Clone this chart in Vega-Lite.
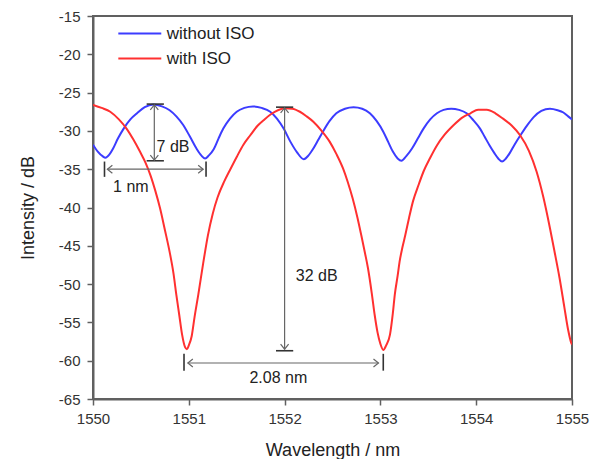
{
  "$schema": "https://vega.github.io/schema/vega-lite/v6.json",
  "autosize": "none",
  "width": 479,
  "height": 383,
  "padding": {"left": 93, "top": 16, "right": 18, "bottom": 60},
  "background": "white",
  "config": {
    "view": {"stroke": "#606060", "strokeWidth": 2},
    "font": "Liberation Sans",
    "axis": {
      "grid": false,
      "domainColor": "#606060",
      "domainWidth": 2,
      "tickColor": "#606060",
      "tickWidth": 1.5,
      "tickSize": 6,
      "labelFont": "Liberation Sans",
      "labelFontSize": 15,
      "labelColor": "#333333",
      "labelOverlap": false,
      "labelFlush": false,
      "titleFont": "Liberation Sans",
      "titleFontSize": 18,
      "titleFontWeight": "normal",
      "titleColor": "#222222"
    },
    "axisY": {"labelOverlap": false},
    "axisQuantitative": {"labelOverlap": false}
  },
  "encoding": {
    "x": {"field": "wavelength", "type": "quantitative",
          "scale": {"domain": [1550, 1555], "nice": false, "zero": false},
          "axis": {"title": "Wavelength / nm", "values": [1550,1551,1552,1553,1554,1555], "format": "d", "labelPadding": 6, "titleY": 56, "titleBaseline": "alphabetic", "labelOverlap": false, "labelFlush": false}},
    "y": {"field": "intensity", "type": "quantitative",
          "scale": {"domain": [-65, -15], "nice": false, "zero": false},
          "axis": {"title": "Intensity / dB", "values": [-65,-60,-55,-50,-45,-40,-35,-30,-25,-20,-15], "labelExpr": "toString(datum.value)", "labelPadding": 7, "titleX": -60, "titleBaseline": "alphabetic", "labelOverlap": false, "labelFlush": false, "labelBound": false}}
  },
  "layer": [
    {
      "data": {"values": [
        {"series":"without ISO","wavelength":1550.00,"intensity":-31.8},
        {"series":"without ISO","wavelength":1550.05,"intensity":-32.7},
        {"series":"without ISO","wavelength":1550.10,"intensity":-33.3},
        {"series":"without ISO","wavelength":1550.13,"intensity":-33.5},
        {"series":"without ISO","wavelength":1550.17,"intensity":-33.1},
        {"series":"without ISO","wavelength":1550.21,"intensity":-32.3},
        {"series":"without ISO","wavelength":1550.26,"intensity":-31.0},
        {"series":"without ISO","wavelength":1550.32,"intensity":-29.7},
        {"series":"without ISO","wavelength":1550.39,"intensity":-28.5},
        {"series":"without ISO","wavelength":1550.46,"intensity":-27.7},
        {"series":"without ISO","wavelength":1550.54,"intensity":-26.9},
        {"series":"without ISO","wavelength":1550.63,"intensity":-26.55},
        {"series":"without ISO","wavelength":1550.72,"intensity":-26.8},
        {"series":"without ISO","wavelength":1550.80,"intensity":-27.3},
        {"series":"without ISO","wavelength":1550.87,"intensity":-28.1},
        {"series":"without ISO","wavelength":1550.94,"intensity":-29.2},
        {"series":"without ISO","wavelength":1551.01,"intensity":-30.7},
        {"series":"without ISO","wavelength":1551.08,"intensity":-32.3},
        {"series":"without ISO","wavelength":1551.13,"intensity":-33.2},
        {"series":"without ISO","wavelength":1551.17,"intensity":-33.6},
        {"series":"without ISO","wavelength":1551.21,"intensity":-33.2},
        {"series":"without ISO","wavelength":1551.26,"intensity":-32.4},
        {"series":"without ISO","wavelength":1551.31,"intensity":-31.0},
        {"series":"without ISO","wavelength":1551.36,"intensity":-29.7},
        {"series":"without ISO","wavelength":1551.43,"intensity":-28.4},
        {"series":"without ISO","wavelength":1551.50,"intensity":-27.5},
        {"series":"without ISO","wavelength":1551.58,"intensity":-27.0},
        {"series":"without ISO","wavelength":1551.67,"intensity":-26.8},
        {"series":"without ISO","wavelength":1551.76,"intensity":-27.0},
        {"series":"without ISO","wavelength":1551.85,"intensity":-27.5},
        {"series":"without ISO","wavelength":1551.92,"intensity":-28.4},
        {"series":"without ISO","wavelength":1551.99,"intensity":-29.7},
        {"series":"without ISO","wavelength":1552.06,"intensity":-31.4},
        {"series":"without ISO","wavelength":1552.13,"intensity":-32.8},
        {"series":"without ISO","wavelength":1552.20,"intensity":-33.7},
        {"series":"without ISO","wavelength":1552.25,"intensity":-33.2},
        {"series":"without ISO","wavelength":1552.30,"intensity":-32.3},
        {"series":"without ISO","wavelength":1552.35,"intensity":-31.2},
        {"series":"without ISO","wavelength":1552.40,"intensity":-30.1},
        {"series":"without ISO","wavelength":1552.47,"intensity":-28.7},
        {"series":"without ISO","wavelength":1552.54,"intensity":-27.7},
        {"series":"without ISO","wavelength":1552.63,"intensity":-27.1},
        {"series":"without ISO","wavelength":1552.72,"intensity":-26.9},
        {"series":"without ISO","wavelength":1552.81,"intensity":-27.1},
        {"series":"without ISO","wavelength":1552.89,"intensity":-27.7},
        {"series":"without ISO","wavelength":1552.96,"intensity":-28.7},
        {"series":"without ISO","wavelength":1553.03,"intensity":-30.1},
        {"series":"without ISO","wavelength":1553.08,"intensity":-31.4},
        {"series":"without ISO","wavelength":1553.13,"intensity":-32.7},
        {"series":"without ISO","wavelength":1553.18,"intensity":-33.6},
        {"series":"without ISO","wavelength":1553.22,"intensity":-33.9},
        {"series":"without ISO","wavelength":1553.27,"intensity":-33.3},
        {"series":"without ISO","wavelength":1553.33,"intensity":-32.3},
        {"series":"without ISO","wavelength":1553.39,"intensity":-31.0},
        {"series":"without ISO","wavelength":1553.45,"intensity":-29.7},
        {"series":"without ISO","wavelength":1553.52,"intensity":-28.5},
        {"series":"without ISO","wavelength":1553.59,"intensity":-27.7},
        {"series":"without ISO","wavelength":1553.66,"intensity":-27.25},
        {"series":"without ISO","wavelength":1553.74,"intensity":-27.1},
        {"series":"without ISO","wavelength":1553.82,"intensity":-27.25},
        {"series":"without ISO","wavelength":1553.90,"intensity":-27.7},
        {"series":"without ISO","wavelength":1553.97,"intensity":-28.6},
        {"series":"without ISO","wavelength":1554.04,"intensity":-29.7},
        {"series":"without ISO","wavelength":1554.09,"intensity":-30.8},
        {"series":"without ISO","wavelength":1554.14,"intensity":-31.9},
        {"series":"without ISO","wavelength":1554.19,"intensity":-32.9},
        {"series":"without ISO","wavelength":1554.23,"intensity":-33.6},
        {"series":"without ISO","wavelength":1554.27,"intensity":-34.0},
        {"series":"without ISO","wavelength":1554.31,"intensity":-33.6},
        {"series":"without ISO","wavelength":1554.35,"intensity":-32.9},
        {"series":"without ISO","wavelength":1554.40,"intensity":-31.8},
        {"series":"without ISO","wavelength":1554.46,"intensity":-30.6},
        {"series":"without ISO","wavelength":1554.53,"intensity":-29.3},
        {"series":"without ISO","wavelength":1554.60,"intensity":-28.2},
        {"series":"without ISO","wavelength":1554.68,"intensity":-27.4},
        {"series":"without ISO","wavelength":1554.77,"intensity":-27.1},
        {"series":"without ISO","wavelength":1554.85,"intensity":-27.3},
        {"series":"without ISO","wavelength":1554.91,"intensity":-27.6},
        {"series":"without ISO","wavelength":1554.96,"intensity":-28.1},
        {"series":"without ISO","wavelength":1555.00,"intensity":-28.5},
        {"series":"with ISO","wavelength":1550.00,"intensity":-26.6},
        {"series":"with ISO","wavelength":1550.09,"intensity":-27.0},
        {"series":"with ISO","wavelength":1550.18,"intensity":-27.5},
        {"series":"with ISO","wavelength":1550.27,"intensity":-28.5},
        {"series":"with ISO","wavelength":1550.35,"intensity":-29.7},
        {"series":"with ISO","wavelength":1550.42,"intensity":-31.1},
        {"series":"with ISO","wavelength":1550.49,"intensity":-32.7},
        {"series":"with ISO","wavelength":1550.55,"intensity":-34.2},
        {"series":"with ISO","wavelength":1550.60,"intensity":-35.8},
        {"series":"with ISO","wavelength":1550.65,"intensity":-37.8},
        {"series":"with ISO","wavelength":1550.70,"intensity":-40.1},
        {"series":"with ISO","wavelength":1550.75,"intensity":-42.9},
        {"series":"with ISO","wavelength":1550.80,"intensity":-45.8},
        {"series":"with ISO","wavelength":1550.84,"intensity":-48.6},
        {"series":"with ISO","wavelength":1550.87,"intensity":-51.4},
        {"series":"with ISO","wavelength":1550.90,"intensity":-54.0},
        {"series":"with ISO","wavelength":1550.93,"intensity":-56.6},
        {"series":"with ISO","wavelength":1550.96,"intensity":-58.2},
        {"series":"with ISO","wavelength":1550.98,"intensity":-58.5},
        {"series":"with ISO","wavelength":1551.00,"intensity":-58.0},
        {"series":"with ISO","wavelength":1551.03,"intensity":-56.8},
        {"series":"with ISO","wavelength":1551.06,"intensity":-54.3},
        {"series":"with ISO","wavelength":1551.10,"intensity":-51.3},
        {"series":"with ISO","wavelength":1551.15,"intensity":-47.3},
        {"series":"with ISO","wavelength":1551.20,"intensity":-43.6},
        {"series":"with ISO","wavelength":1551.25,"intensity":-40.8},
        {"series":"with ISO","wavelength":1551.30,"intensity":-38.7},
        {"series":"with ISO","wavelength":1551.37,"intensity":-36.6},
        {"series":"with ISO","wavelength":1551.43,"intensity":-35.1},
        {"series":"with ISO","wavelength":1551.50,"intensity":-33.4},
        {"series":"with ISO","wavelength":1551.57,"intensity":-31.8},
        {"series":"with ISO","wavelength":1551.64,"intensity":-30.6},
        {"series":"with ISO","wavelength":1551.72,"intensity":-29.3},
        {"series":"with ISO","wavelength":1551.79,"intensity":-28.5},
        {"series":"with ISO","wavelength":1551.86,"intensity":-27.8},
        {"series":"with ISO","wavelength":1551.93,"intensity":-27.3},
        {"series":"with ISO","wavelength":1552.00,"intensity":-27.05},
        {"series":"with ISO","wavelength":1552.08,"intensity":-27.1},
        {"series":"with ISO","wavelength":1552.16,"intensity":-27.5},
        {"series":"with ISO","wavelength":1552.23,"intensity":-28.1},
        {"series":"with ISO","wavelength":1552.30,"intensity":-28.8},
        {"series":"with ISO","wavelength":1552.38,"intensity":-29.9},
        {"series":"with ISO","wavelength":1552.47,"intensity":-31.4},
        {"series":"with ISO","wavelength":1552.54,"intensity":-33.0},
        {"series":"with ISO","wavelength":1552.61,"intensity":-34.9},
        {"series":"with ISO","wavelength":1552.66,"intensity":-36.7},
        {"series":"with ISO","wavelength":1552.71,"intensity":-38.8},
        {"series":"with ISO","wavelength":1552.76,"intensity":-41.3},
        {"series":"with ISO","wavelength":1552.80,"intensity":-43.6},
        {"series":"with ISO","wavelength":1552.84,"intensity":-46.0},
        {"series":"with ISO","wavelength":1552.87,"intensity":-47.9},
        {"series":"with ISO","wavelength":1552.91,"intensity":-51.2},
        {"series":"with ISO","wavelength":1552.94,"intensity":-54.0},
        {"series":"with ISO","wavelength":1552.97,"intensity":-56.3},
        {"series":"with ISO","wavelength":1553.00,"intensity":-57.8},
        {"series":"with ISO","wavelength":1553.03,"intensity":-58.6},
        {"series":"with ISO","wavelength":1553.06,"intensity":-58.0},
        {"series":"with ISO","wavelength":1553.10,"intensity":-56.6},
        {"series":"with ISO","wavelength":1553.13,"intensity":-53.8},
        {"series":"with ISO","wavelength":1553.15,"intensity":-51.4},
        {"series":"with ISO","wavelength":1553.18,"intensity":-48.9},
        {"series":"with ISO","wavelength":1553.20,"intensity":-47.1},
        {"series":"with ISO","wavelength":1553.23,"intensity":-45.2},
        {"series":"with ISO","wavelength":1553.26,"intensity":-43.6},
        {"series":"with ISO","wavelength":1553.30,"intensity":-41.3},
        {"series":"with ISO","wavelength":1553.34,"intensity":-39.2},
        {"series":"with ISO","wavelength":1553.40,"intensity":-37.0},
        {"series":"with ISO","wavelength":1553.45,"intensity":-35.3},
        {"series":"with ISO","wavelength":1553.52,"intensity":-33.5},
        {"series":"with ISO","wavelength":1553.59,"intensity":-31.9},
        {"series":"with ISO","wavelength":1553.67,"intensity":-30.5},
        {"series":"with ISO","wavelength":1553.76,"intensity":-29.3},
        {"series":"with ISO","wavelength":1553.85,"intensity":-28.3},
        {"series":"with ISO","wavelength":1553.94,"intensity":-27.7},
        {"series":"with ISO","wavelength":1554.02,"intensity":-27.25},
        {"series":"with ISO","wavelength":1554.11,"intensity":-27.25},
        {"series":"with ISO","wavelength":1554.20,"intensity":-27.7},
        {"series":"with ISO","wavelength":1554.28,"intensity":-28.4},
        {"series":"with ISO","wavelength":1554.37,"intensity":-29.3},
        {"series":"with ISO","wavelength":1554.46,"intensity":-30.6},
        {"series":"with ISO","wavelength":1554.55,"intensity":-32.6},
        {"series":"with ISO","wavelength":1554.63,"intensity":-35.3},
        {"series":"with ISO","wavelength":1554.70,"intensity":-38.6},
        {"series":"with ISO","wavelength":1554.77,"intensity":-42.7},
        {"series":"with ISO","wavelength":1554.82,"intensity":-45.9},
        {"series":"with ISO","wavelength":1554.87,"intensity":-49.2},
        {"series":"with ISO","wavelength":1554.92,"intensity":-53.0},
        {"series":"with ISO","wavelength":1554.96,"intensity":-56.0},
        {"series":"with ISO","wavelength":1554.99,"intensity":-57.6},
        {"series":"with ISO","wavelength":1555.00,"intensity":-57.9}
      ]},
      "mark": {"type": "line", "strokeWidth": 2, "interpolate": "monotone", "clip": true},
      "encoding": {
        "color": {"field": "series", "type": "nominal",
                  "scale": {"domain": ["without ISO", "with ISO"], "range": ["#3c3cff", "#ff3030"]},
                  "legend": {"orient": "none", "legendX": 38.3, "legendY": 9, "title": null,
                             "symbolType": "M-3,0L3,0", "symbolSize": 205, "symbolStrokeWidth": 2,
                             "labelFontSize": 17, "labelFont": "Liberation Sans", "labelColor": "#222222",
                             "labelOffset": 18.4, "rowPadding": 7, "padding": 0, "offset": 0}}
      }
    },
    {
      "data": {"values": [
        {"wavelength": 1550.64, "intensity": -26.6, "wavelength2": 1550.64, "intensity2": -33.8},
        {"wavelength": 1552.0, "intensity": -27.0, "wavelength2": 1552.0, "intensity2": -58.5},
        {"wavelength": 1550.15, "intensity": -35.0, "wavelength2": 1551.15, "intensity2": -35.0},
        {"wavelength": 1550.99, "intensity": -60.3, "wavelength2": 1552.98, "intensity2": -60.3}
      ]},
      "mark": {"type": "rule", "color": "#666666", "strokeWidth": 1.2},
      "encoding": {
        "x2": {"field": "wavelength2"},
        "y2": {"field": "intensity2"}
      }
    },
    {
      "data": {"values": [
        {"wavelength": 1550.56, "intensity": -26.5, "wavelength2": 1550.74, "intensity2": -26.5},
        {"wavelength": 1550.56, "intensity": -33.9, "wavelength2": 1550.74, "intensity2": -33.9},
        {"wavelength": 1551.91, "intensity": -26.9, "wavelength2": 1552.09, "intensity2": -26.9},
        {"wavelength": 1551.91, "intensity": -58.7, "wavelength2": 1552.09, "intensity2": -58.7},
        {"wavelength": 1550.12, "intensity": -34.0, "wavelength2": 1550.12, "intensity2": -36.0},
        {"wavelength": 1551.18, "intensity": -34.0, "wavelength2": 1551.18, "intensity2": -36.0},
        {"wavelength": 1550.95, "intensity": -59.1, "wavelength2": 1550.95, "intensity2": -61.3},
        {"wavelength": 1553.03, "intensity": -59.1, "wavelength2": 1553.03, "intensity2": -61.3}
      ]},
      "mark": {"type": "rule", "color": "#333333", "strokeWidth": 1.6},
      "encoding": {
        "x2": {"field": "wavelength2"},
        "y2": {"field": "intensity2"}
      }
    },
    {
      "data": {"values": [
        {"wavelength": 1550.64, "intensity": -26.6, "direction": 270},
        {"wavelength": 1550.64, "intensity": -33.8, "direction": 90},
        {"wavelength": 1552.0, "intensity": -27.0, "direction": 270},
        {"wavelength": 1552.0, "intensity": -58.5, "direction": 90},
        {"wavelength": 1550.15, "intensity": -35.0, "direction": 180},
        {"wavelength": 1551.15, "intensity": -35.0, "direction": 0},
        {"wavelength": 1550.99, "intensity": -60.3, "direction": 180},
        {"wavelength": 1552.98, "intensity": -60.3, "direction": 0}
      ]},
      "mark": {"type": "point", "shape": "M-1,-0.8L0,0L-1,0.8", "filled": false, "size": 100, "stroke": "#666666", "strokeWidth": 1.2, "opacity": 1},
      "encoding": {
        "angle": {"field": "direction", "type": "quantitative", "scale": null}
      }
    },
    {
      "data": {"values": [
        {"wavelength": 1550.835, "intensity": -32.1, "label": "7 dB"},
        {"wavelength": 1550.395, "intensity": -37.3, "label": "1 nm"},
        {"wavelength": 1552.335, "intensity": -49.0, "label": "32 dB"},
        {"wavelength": 1551.935, "intensity": -62.3, "label": "2.08 nm"}
      ]},
      "mark": {"type": "text", "fontSize": 16, "font": "Liberation Sans", "color": "#222222", "align": "center", "baseline": "middle"},
      "encoding": {
        "text": {"field": "label"}
      }
    }
  ]
}
